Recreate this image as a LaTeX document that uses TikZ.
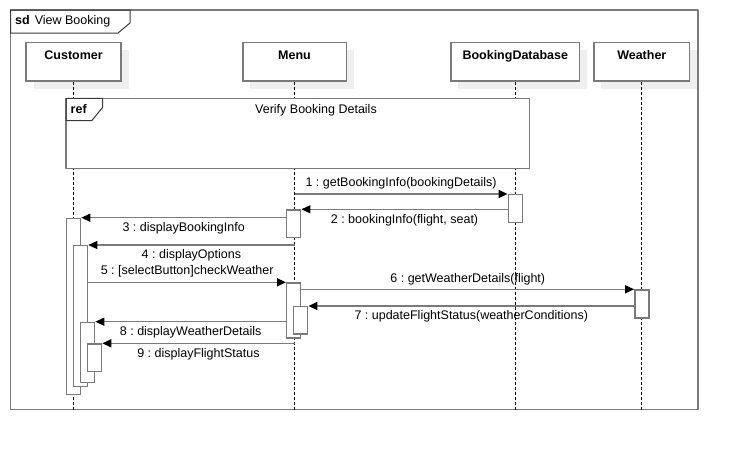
\documentclass[tikz,border=0pt]{standalone}
\usepackage{fontspec}
\setmainfont{Liberation Sans}
\usepackage{tkz-euclide}
\usetikzlibrary{arrows.meta, shadows}
\definecolor{umlgray}{HTML}{7A7A7A}
\definecolor{tabgray}{HTML}{3A3A3A}
\definecolor{shadowgray}{HTML}{EFEFEF}
\tikzset{>={Triangle[length=9pt,width=8pt,color=black]}}
\tikzset{
  frameline/.style = {draw=umlgray, line width=1.4pt},
  tabline/.style = {draw=tabgray, line width=1pt},
  headbox/.style = {draw=umlgray, line width=1.4pt, fill=white, inner sep=0pt,
    text height=16.3pt, text depth=22pt, font=\fontsize{12.5}{14}\selectfont\bfseries,
    drop shadow={shadow xshift=7.5pt, shadow yshift=-7.5pt, fill=shadowgray, opacity=1}},
  lifeline/.style = {draw=black, line width=0.8pt, dash pattern=on 3pt off 2pt},
  actbar/.style = {draw=umlgray, line width=1.4pt, fill=white, minimum width=14pt,
    inner sep=0pt, anchor=north},
  msg/.style = {draw=umlgray, line width=1.4pt, ->},
  msglabel/.style = {inner sep=0pt, font=\fontsize{12.5}{14}\selectfont}
}

\begin{document}
\frenchspacing
\begin{tikzpicture}[x=1pt, y=-1pt]
    \useasboundingbox (0,0) rectangle (738,453);
    % frame and sd tab
    \tkzDefPoints{10.5/10/F1, 698/10/F2, 698/409.5/F3, 10.5/409.5/F4}
    \tkzDefPoints{130/10/S1, 130/23/S2, 118/33/S3, 10.5/33/S4}
    \tkzDrawPolygon[frameline](F1,F2,F3,F4)
    \tkzDrawPolygon[tabline](F1,S1,S2,S3,S4)
    \node[anchor=base west, inner sep=0pt, font=\fontsize{12.5}{14}\selectfont] (sd) at (15,24.5)
        {\textbf{sd}\hspace{5pt}View Booking};
    % lifeline heads
    \node[headbox, minimum width=95pt] (cust) at (73.6,61.85) {Customer};
    \node[headbox, minimum width=103.4pt] (menu) at (294.5,61.85) {Menu};
    \node[headbox, minimum width=128.7pt] (bdb) at (515.3,61.85) {BookingDatabase};
    \node[headbox, minimum width=95.7pt] (wthr) at (641.8,61.85) {Weather};
    \foreach \h in {cust, menu, bdb, wthr}
        \draw[lifeline] (\h.south) -- (\h.south |- F4);
    % ref fragment
    \tkzDefPoints{66/98.3/R1, 529.3/98.3/R2, 529.3/168.3/R3, 66/168.3/R4}
    \tkzDefPoints{102.7/98.3/T1, 102.7/107.3/T2, 91.7/120.7/T3, 66/120.7/T4}
    \tkzDrawPolygon[frameline, fill=white](R1,R2,R3,R4)
    \tkzDrawPolygon[tabline](R1,T1,T2,T3,T4)
    \node[anchor=base west, inner sep=0pt, font=\fontsize{12.5}{14}\selectfont\bfseries] (ref) at (70.5,113) {ref};
    \node[anchor=base, inner sep=0pt, font=\fontsize{12.5}{14}\selectfont] (refname) at (316,113) {Verify Booking Details};
    % message levels
    \tkzDefPoints{0/194/t1, 0/209.3/t2, 0/217.7/t3, 0/245/t4, 0/282.3/t5,
                  0/289.3/t6, 0/306/t7, 0/321.7/t8, 0/343.3/t9}
    % activations
    \node[actbar, minimum height=176.3pt] (c1) at (cust |- t3) {};
    \node[actbar, minimum height=141pt, xshift=7pt] (c2) at (cust |- t4) {};
    \node[actbar, minimum height=60pt, xshift=14pt] (c3) at (cust |- t8) {};
    \node[actbar, minimum height=27.4pt, xshift=21pt] (c4) at (cust |- t9) {};
    \node[actbar, minimum height=27.7pt, xshift=-0.8pt] (m1) at (menu |- t2) {};
    \node[actbar, minimum height=55pt, xshift=-0.8pt] (m2) at (menu |- t5) {};
    \node[actbar, minimum height=27.3pt, xshift=6.2pt] (m3) at (menu |- t7) {};
    \node[actbar, minimum height=27.7pt] (db1) at (bdb |- t1) {};
    \node[actbar, minimum height=28pt] (w1) at (wthr |- t6) {};
    % messages
    \draw[msg] (menu |- t1) -- node[msglabel, above=4.5pt] {1 : getBookingInfo(bookingDetails)} (db1.west |- t1);
    \draw[msg] (db1.west |- t2) -- node[msglabel, below=4pt] {2 : bookingInfo(flight, seat)} (m1.east |- t2);
    \draw[msg] (m1.west |- t3) -- node[msglabel, below=4pt] {3 : displayBookingInfo} (c1.east |- t3);
    \draw[msg] (menu |- t4) -- node[msglabel, below=4pt] {4 : displayOptions} (c2.east |- t4);
    \draw[msg] (c2.east |- t5) -- node[msglabel, above=4.5pt] {5 : [selectButton]checkWeather} (m2.west |- t5);
    \draw[msg] (m2.east |- t6) -- node[msglabel, above=4pt] {6 : getWeatherDetails(flight)} (w1.west |- t6);
    \draw[msg] (w1.west |- t7) -- node[msglabel, below=4pt] {7 : updateFlightStatus(weatherConditions)} (m3.east |- t7);
    \draw[msg] (m2.west |- t8) -- node[msglabel, below=4pt] {8 : displayWeatherDetails} (c3.east |- t8);
    \draw[msg] (menu |- t9) -- node[msglabel, below=4pt] {9 : displayFlightStatus} (c4.east |- t9);
\end{tikzpicture}
\end{document}
